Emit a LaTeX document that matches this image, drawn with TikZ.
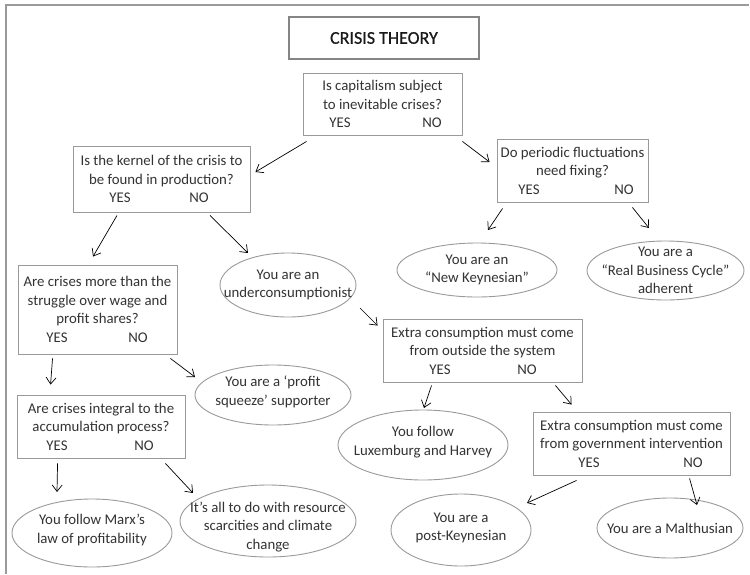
\documentclass[tikz,border=0pt]{standalone}
\usepackage{fontspec}
\setmainfont{Carlito}
\newfontfamily\crisistitlefont[FakeBold=0.6]{Carlito}
\usetikzlibrary{shapes.geometric,arrows.meta,calc}
\definecolor{boxgray}{HTML}{9A9A9A}
\definecolor{titlegray}{HTML}{858585}
\definecolor{txtgray}{HTML}{333333}
\newcommand{\yn}[2]{\makebox[0pt]{\hspace{#1}YES}\makebox[0pt]{\hspace{#2}NO}}
\newcommand{\fs}{\fontsize{14.8}{18.5}\selectfont}
\tikzset{
  qbox/.style={draw=boxgray, line width=0.9pt, inner sep=0pt, align=center, text=txtgray, font=\fs},
  oval/.style={ellipse, draw=boxgray, line width=0.9pt, inner sep=0pt},
  txt/.style={align=center, text=txtgray, font=\fs, inner sep=0pt},
  arr/.style={-{Straight Barb[length=6.5pt,width=10pt]}, line width=0.7pt, black},
  titlebox/.style={draw=titlegray, line width=2.4pt, inner sep=0pt, text=black!90, font=\crisistitlefont\fontsize{18}{22}\selectfont}
}
\begin{document}
\begin{tikzpicture}[x=1pt,y=-1pt]
\useasboundingbox (0,0) rectangle (750,574);
\fill[white] (0,0) rectangle (750,574);
% frame
\draw[boxgray, line width=1.2pt] (6,574) -- (6,5) -- (749,5);
% title
\node[titlebox, minimum width=190pt, minimum height=42pt] (title) at (384,38) {CRISIS THEORY};
% question boxes
\node[qbox, minimum width=159pt, minimum height=62pt] (q1) at (382.5,104)
  {Is capitalism subject\\to inevitable crises?\\\yn{-85pt}{99pt}};
\node[qbox, minimum width=177pt, minimum height=66pt] (q2) at (161.5,179)
  {Is the kernel of the crisis to\\be found in production?\\\yn{-83pt}{75pt}};
\node[qbox, minimum width=151pt, minimum height=63pt] (q3) at (572.5,170.5)
  {Do periodic fluctuations\\need fixing?\\\yn{-87pt}{103pt}};
\node[qbox, minimum width=159pt, minimum height=89pt] (q4) at (97.5,309.5)
  {Are crises more than the\\struggle over wage and\\profit shares?\\\yn{-81pt}{81pt}};
\node[qbox, minimum width=168pt, minimum height=63pt] (q7) at (101,426.5)
  {Are crises integral to the\\accumulation process?\\\yn{-88pt}{86pt}};
\node[qbox, minimum width=199pt, minimum height=63pt] (q5) at (482.5,350.5)
  {Extra consumption must come\\from outside the system\\\yn{-85pt}{89pt}};
\node[qbox, minimum width=197pt, minimum height=63pt] (q6) at (631.5,443.5)
  {Extra consumption must come\\from government intervention\\\yn{-85pt}{123pt}};
% answer ellipses
\node[oval, minimum width=160pt, minimum height=54pt] (nk) at (477,270) {};
\node[txt] at (nk) {You are an\\“New Keynesian”};
\node[oval, minimum width=157pt, minimum height=59pt] (rbc) at (665.5,270.5) {};
\node[txt] at (rbc) {You are a\\“Real Business Cycle”\\adherent};
\node[oval, minimum width=136pt, minimum height=64pt] (uc) at (288,285) {};
\node[txt] at (uc) {You are an\\underconsumptionist};
\node[oval, minimum width=156pt, minimum height=60pt] (ps) at (273,395) {};
\node[txt] at ($(ps)+(0,-3)$) {You are a ‘profit\\squeeze’ supporter};
\node[oval, minimum width=170pt, minimum height=70pt] (lh) at (423,445) {};
\node[txt] at ($(lh)+(0,-3)$) {You follow\\Luxemburg and Harvey};
\node[oval, minimum width=140pt, minimum height=72pt] (pk) at (461,530) {};
\node[txt] at ($(pk)+(0,-2)$) {You are a\\post-Keynesian};
\node[oval, minimum width=146pt, minimum height=60pt] (m) at (670,528) {};
\node[txt] at (m) {You are a Malthusian};
\node[oval, minimum width=160pt, minimum height=68pt] (marx) at (92,533) {};
\node[txt] at ($(marx)+(0,-3)$) {You follow Marx’s\\law of profitability};
\node[oval, minimum width=176pt, minimum height=72pt] (rs) at (268,521) {};
\node[txt] at ($(rs)+(0,6)$) {It’s all to do with resource\\scarcities and climate\\change};
% connectors
\draw[arr] ($(q1.south west)+(4,6)$) -- ($(q2.east)+(5,-7)$);
\draw[arr] ($(q1.south east)+(0,6)$) -- ($(q3.west)+(-7,-8.5)$);
\draw[arr] ($(q2.south)+(-44.5,3)$) -- ($(q4.north)+(-4.5,-8)$);
\draw[arr] ($(q2.south)+(48.5,3)$) -- ($(uc.center)+(-40,-32)$);
\draw[arr] ($(uc.center)+(72,23)$) -- ($(q5.north west)+(-5,7)$);
\draw[arr] ($(q3.south west)+(6,6)$) -- ($(nk.center)+(11,-40)$);
\draw[arr] ($(q3.south east)+(-16,5)$) -- ($(rbc.center)+(-16.5,-42.5)$);
\draw[arr] ($(q4.south west)+(35,4)$) -- ($(q7.north west)+(34,-10)$);
\draw[arr] ($(q4.south east)+(-7,4)$) -- ($(ps.center)+(-78,-18)$);
\draw[arr] ($(q7.south west)+(41,5)$) -- ($(marx.center)+(-35,-41)$);
\draw[arr] ($(q7.south east)+(-20,5)$) -- ($(rs.center)+(-75,-28)$);
\draw[arr] ($(q5.south west)+(49,3)$) -- ($(lh.center)+(1,-37)$);
\draw[arr] ($(q5.south east)+(-27,3)$) -- ($(q6.north west)+(39,-7)$);
\draw[arr] ($(q6.south west)+(44,5)$) -- ($(pk.center)+(66,-27)$);
\draw[arr] ($(q6.south west)+(157,3)$) -- ($(m.center)+(27,-23)$);
\end{tikzpicture}
\end{document}
